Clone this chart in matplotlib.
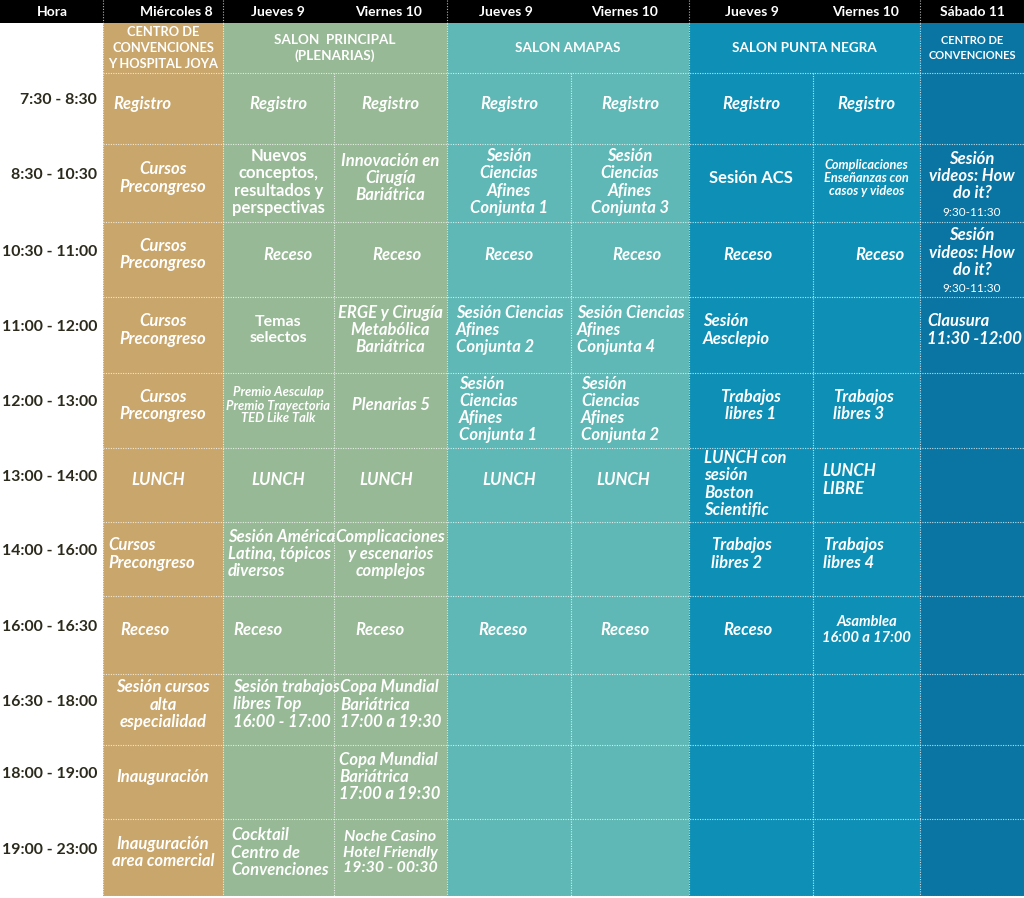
import matplotlib
matplotlib.use("Agg")
import matplotlib.pyplot as plt
from matplotlib.patches import Rectangle

plt.rcParams['font.family'] = ['Lato', 'DejaVu Sans']

# ---------------- data ----------------
dias = ["Hora", "Miércoles 8", "Jueves 9", "Viernes 10", "Jueves 9", "Viernes 10",
        "Jueves 9", "Viernes 10", "Sábado 11"]

horas = ["7:30 - 8:30", "8:30 - 10:30", "10:30 - 11:00", "11:00 - 12:00", "12:00 - 13:00",
         "13:00 - 14:00", "14:00 - 16:00", "16:00 - 16:30", "16:30 - 18:00",
         "18:00 - 19:00", "19:00 - 23:00"]

# (text, first column, last column)
salones = [("CENTRO DE\nCONVENCIONES\nY HOSPITAL JOYA", 1, 1),
           ("SALON  PRINCIPAL\n(PLENARIAS)", 2, 3),
           ("SALON AMAPAS", 4, 5),
           ("SALON PUNTA NEGRA", 6, 7),
           ("CENTRO DE\nCONVENCIONES", 8, 8)]

miercoles = ["Registro", "Cursos\nPrecongreso", "Cursos\nPrecongreso", "Cursos\nPrecongreso",
             "Cursos\nPrecongreso", "LUNCH", "Cursos\nPrecongreso", "Receso",
             "Sesión cursos\nalta\nespecialidad", "Inauguración", "Inauguración\narea comercial"]
jueves_pl = ["Registro", "Nuevos\nconceptos,\nresultados y\nperspectivas", "Receso",
             "Temas\nselectos", "Premio Aesculap\nPremio Trayectoria\nTED Like Talk", "LUNCH",
             "Sesión América\nLatina, tópicos\ndiversos", "Receso",
             "Sesión trabajos\nlibres Top\n16:00 - 17:00", "", "Cocktail\nCentro de\nConvenciones"]
viernes_pl = ["Registro", "Innovación en\nCirugía\nBariátrica", "Receso",
              "ERGE y Cirugía\nMetabólica\nBariátrica", "Plenarias 5", "LUNCH",
              "Complicaciones\ny escenarios\ncomplejos", "Receso",
              "Copa Mundial\nBariátrica\n17:00 a 19:30", "Copa Mundial\nBariátrica\n17:00 a 19:30",
              "Noche Casino\nHotel Friendly\n19:30 - 00:30"]
jueves_am = ["Registro", "Sesión\nCiencias\nAfines\nConjunta 1", "Receso",
             "Sesión Ciencias\nAfines\nConjunta 2", "Sesión\nCiencias\nAfines\nConjunta 1",
             "LUNCH", "", "Receso", "", "", ""]
viernes_am = ["Registro", "Sesión\nCiencias\nAfines\nConjunta 3", "Receso",
              "Sesión Ciencias\nAfines\nConjunta 4", "Sesión\nCiencias\nAfines\nConjunta 2",
              "LUNCH", "", "Receso", "", "", ""]
jueves_pn = ["Registro", "Sesión ACS", "Receso", "Sesión\nAesclepio", "Trabajos\nlibres 1",
             "LUNCH con\nsesión\nBoston\nScientific", "Trabajos\nlibres 2", "Receso", "", "", ""]
viernes_pn = ["Registro", "Complicaciones\nEnseñanzas con\ncasos y videos", "Receso", "",
              "Trabajos\nlibres 3", "LUNCH\nLIBRE", "Trabajos\nlibres 4",
              "Asamblea\n16:00 a 17:00", "", "", ""]
sabado = ["", "Sesión\nvideos: How\ndo it?", "Sesión\nvideos: How\ndo it?",
          "Clausura\n11:30 -12:00", "", "", "", "", "", "", ""]
sabado_nota = ["", "9:30-11:30", "9:30-11:30", "", "", "", "", "", "", "", ""]

columnas = [miercoles, jueves_pl, viernes_pl, jueves_am, viernes_am,
            jueves_pn, viernes_pn, sabado]

# ---------------- layout / style ----------------
col_x = [0, 103, 223, 334, 447, 571, 689, 813, 920, 1024]
row_y = [0, 23, 73, 144, 222, 297, 373, 448, 522, 596, 674, 745, 819, 896]
col_colors = ["white", "#C9A66B", "#97B995", "#97B995", "#5FB8B5", "#5FB8B5",
              "#0E90B6", "#0E90B6", "#0A75A2"]

# left aligned cells -> left padding (column index 1..8, row index 0..10)
izquierda = {(1, 0): 10, (1, 6): 5, (1, 7): 17, (2, 6): 5, (2, 7): 10, (2, 8): 10,
             (2, 10): 8, (3, 7): 21, (3, 8): 6, (3, 9): 5, (4, 3): 9, (4, 4): 12,
             (5, 3): 6, (5, 4): 10, (6, 3): 14, (6, 5): 15, (6, 6): 22, (7, 4): 20,
             (7, 5): 9, (7, 6): 10, (8, 3): 7}
# small horizontal shifts for centred cells
desplaza = {(1, 5): -5, (2, 2): 9, (3, 2): 6, (5, 2): 7, (7, 2): 13, (5, 5): -7,
            (3, 5): -4, (4, 7): -6, (6, 2): -3, (5, 7): -5, (6, 7): -3}
rectos = {(2, 1), (2, 3), (6, 1)}
tamanos = {(2, 4): 9.3, (7, 1): 9.2, (7, 7): 10.5, (3, 10): 11.4, (2, 3): 11.5}

fig = plt.figure(figsize=(10.24, 8.98), dpi=100)
ax = fig.add_axes([0, 0, 1, 1])
ax.set_xlim(0, 1024)
ax.set_ylim(898, 0)
ax.axis('off')

# column backgrounds
for i in range(1, 9):
    ax.add_patch(Rectangle((col_x[i], row_y[1]), col_x[i + 1] - col_x[i],
                           row_y[-1] - row_y[1], color=col_colors[i], lw=0))

# header bar
ax.add_patch(Rectangle((0, 0), 1024, row_y[1], color="black", lw=0))
head_x = [52, 176, 278, 389, 506, 625, 752, 866, 972]
for x, d in zip(head_x, dias):
    ax.text(x, row_y[1] / 2 + 1, d, color="white", fontsize=10, fontweight="bold",
            ha="center", va="center")
for x in [103, 223, 447, 689, 920]:
    ax.plot([x, x], [0, row_y[1]], color="white", lw=0.8, ls=(0, (1, 1.5)), alpha=0.7)

# grid lines (dotted white)
for y in row_y[2:]:
    ax.plot([col_x[1], 1024], [y, y], color="white", lw=0.8, ls=(0, (1, 1.2)), alpha=0.75)
for x in col_x[1:-1]:
    y0 = row_y[1] if x in (103, 223, 447, 689, 920) else row_y[2]
    ax.plot([x, x], [y0, row_y[-1]], color="white", lw=0.8, ls=(0, (1, 1.2)), alpha=0.75)

# venue row
for txt, c0, c1 in salones:
    xc = (col_x[c0] + col_x[c1 + 1]) / 2
    fs = {1: 9.3, 8: 8}.get(c0, 9.7)
    ax.text(xc, (row_y[1] + row_y[2]) / 2, txt, color="white", fontsize=fs,
            fontweight="bold", ha="center", va="center", linespacing=1.35)

# hour labels
for r, h in enumerate(horas):
    yc = (row_y[r + 2] + row_y[r + 3]) / 2 - 8
    ax.text(97, yc, h, color="#2B2A1C", fontsize=11.4, fontweight="bold",
            ha="right", va="center")

# cell texts
for c, col in enumerate(columnas, start=1):
    for r, txt in enumerate(col):
        if not txt:
            continue
        y0, y1 = row_y[r + 2], row_y[r + 3]
        yc = (y0 + y1) / 2 - 5
        if txt.count("\n") >= 3:
            yc += 4
        if (c, r) in izquierda:
            x = col_x[c] + izquierda[(c, r)]
            ha = "left"
        else:
            x = (col_x[c] + col_x[c + 1]) / 2 + desplaza.get((c, r), 0)
            ha = "center"
        style = "normal" if (c, r) in rectos else "italic"
        fs = tamanos.get((c, r), 12)
        if c == 8 and sabado_nota[r]:
            yc -= 2
        ax.text(x, yc, txt, color="white", fontsize=fs, fontweight="bold", fontstyle=style,
                ha=ha, va="center", linespacing=1.1, multialignment=ha)

for r, nota in enumerate(sabado_nota):
    if nota:
        ax.text((col_x[8] + col_x[9]) / 2, row_y[r + 3] - 9, nota, color="white",
                fontsize=8.5, ha="center", va="center")

fig.savefig("out.png", dpi=100)
